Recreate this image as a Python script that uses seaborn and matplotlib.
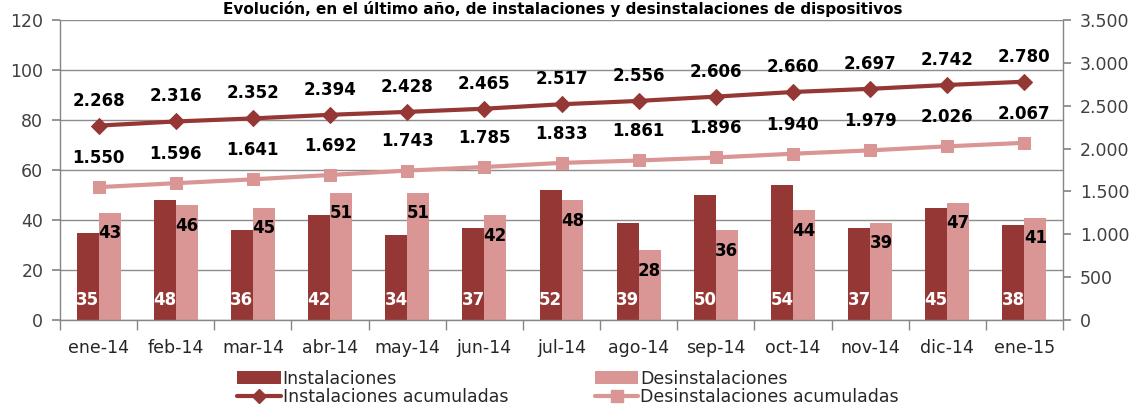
import numpy as np
import pandas as pd
import matplotlib
matplotlib.use("Agg")
import matplotlib.pyplot as plt
import seaborn as sns
from matplotlib.ticker import FuncFormatter, MultipleLocator
from matplotlib.lines import Line2D
from matplotlib.patches import Patch

months = ["ene-14", "feb-14", "mar-14", "abr-14", "may-14", "jun-14", "jul-14",
          "ago-14", "sep-14", "oct-14", "nov-14", "dic-14", "ene-15"]
instalaciones = [35, 48, 36, 42, 34, 37, 52, 39, 50, 54, 37, 45, 38]
desinstalaciones = [43, 46, 45, 51, 51, 42, 48, 28, 36, 44, 39, 47, 41]
inst_acum = [2268, 2316, 2352, 2394, 2428, 2465, 2517, 2556, 2606, 2660, 2697, 2742, 2780]
desinst_acum = [1550, 1596, 1641, 1692, 1743, 1785, 1833, 1861, 1896, 1940, 1979, 2026, 2067]

title = "Evolución, en el último año, de instalaciones y desinstalaciones de dispositivos"
c_dark = "#953735"
c_light = "#D99694"

sns.set_theme(style="white")
plt.rcParams["font.family"] = ["DejaVu Sans"]

fig = plt.figure(figsize=(11.33, 4.07), dpi=100)
ax = fig.add_axes([60/1133, 1-320/407, 1003/1133, 300/407])

df = pd.DataFrame({
    "mes": months * 2,
    "valor": instalaciones + desinstalaciones,
    "serie": ["Instalaciones"] * len(months) + ["Desinstalaciones"] * len(months),
})
sns.barplot(data=df, x="mes", y="valor", hue="serie", order=months,
            hue_order=["Instalaciones", "Desinstalaciones"],
            palette=[c_dark, c_light], width=0.57, saturation=1, linewidth=0,
            ax=ax, legend=False, errorbar=None)

ax.set_ylim(0, 120)
ax.yaxis.set_major_locator(MultipleLocator(20))
ax.set_xlim(-0.5, len(months) - 0.5)
ax.grid(axis="y", color="#8c8c8c", linewidth=1)
ax.grid(axis="x", visible=False)
ax.set_axisbelow(True)
ax.set_xlabel("")
ax.set_ylabel("")

# bar labels
conts = ax.containers
for rect, v in zip(conts[0], instalaciones):
    ax.text(rect.get_x() + rect.get_width()/2, 8, str(v), ha="center", va="center",
            color="white", fontsize=12, fontweight="bold")
for rect, v in zip(conts[1], desinstalaciones):
    ax.text(rect.get_x() + rect.get_width()/2, v - 8.3, str(v), ha="center", va="center",
            color="black", fontsize=12, fontweight="bold")

ax2 = ax.twinx()
x = np.arange(len(months))
sns.lineplot(x=x, y=inst_acum, ax=ax2, color=c_dark, linewidth=3, marker="D",
             markersize=8, markeredgecolor=c_dark)
sns.lineplot(x=x, y=desinst_acum, ax=ax2, color=c_light, linewidth=3, marker="s",
             markersize=9, markeredgecolor=c_light)
ax2.set_ylim(0, 3500)
ax2.yaxis.set_major_locator(MultipleLocator(500))
ax2.yaxis.set_major_formatter(FuncFormatter(lambda v, p: f"{int(v):,}".replace(",", ".")))
ax2.grid(False)

def fmt(v):
    return f"{v:,}".replace(",", ".")

for xi, v in zip(x, inst_acum):
    ax2.annotate(fmt(v), (xi, v), xytext=(0, 18), textcoords="offset points",
                 ha="center", va="center", fontsize=12, fontweight="bold", color="black")
for xi, v in zip(x, desinst_acum):
    ax2.annotate(fmt(v), (xi, v), xytext=(0, 21), textcoords="offset points",
                 ha="center", va="center", fontsize=12, fontweight="bold", color="black")

# spines & ticks
for a in (ax, ax2):
    for s in a.spines.values():
        s.set_visible(False)
ax.spines["left"].set_visible(True)
ax.spines["bottom"].set_visible(True)
ax2.spines["right"].set_visible(True)
for s in (ax.spines["left"], ax.spines["bottom"], ax2.spines["right"]):
    s.set_color("#868686")
    s.set_linewidth(1)

ax.tick_params(axis="y", which="major", left=True, length=6, color="#868686",
               labelsize=12.5, labelcolor="#404040", pad=6)
ax2.tick_params(axis="y", which="major", right=True, length=6, color="#868686",
                labelsize=12.5, labelcolor="#404040", pad=6)
ax.tick_params(axis="x", which="major", bottom=False, labelsize=12.5,
               labelcolor="#262626", pad=8)
ax.set_xticks(np.arange(-0.5, len(months) + 0.5, 1), minor=True)
ax.tick_params(axis="x", which="minor", bottom=True, length=7, color="#868686")

# legend
handles = [
    Patch(facecolor=c_dark, edgecolor="none", label="Instalaciones"),
    Line2D([0], [0], color=c_dark, linewidth=3, marker="D", markersize=7,
           label="Instalaciones acumuladas"),
    Patch(facecolor=c_light, edgecolor="none", label="Desinstalaciones"),
    Line2D([0], [0], color=c_light, linewidth=3, marker="s", markersize=8,
           label="Desinstalaciones acumuladas"),
]
fig.legend(handles=handles, ncol=2, loc="center", bbox_to_anchor=(568/1133, 1-388/407),
           frameon=False, fontsize=12.5, handlelength=2.5, handletextpad=0.1,
           columnspacing=5.0, labelspacing=0.05, borderaxespad=0)

fig.text(563/1133, 1 - 1/407, title, ha="center", va="top", fontsize=11,
         fontweight="bold", color="black")

fig.savefig("out.png", dpi=100)
